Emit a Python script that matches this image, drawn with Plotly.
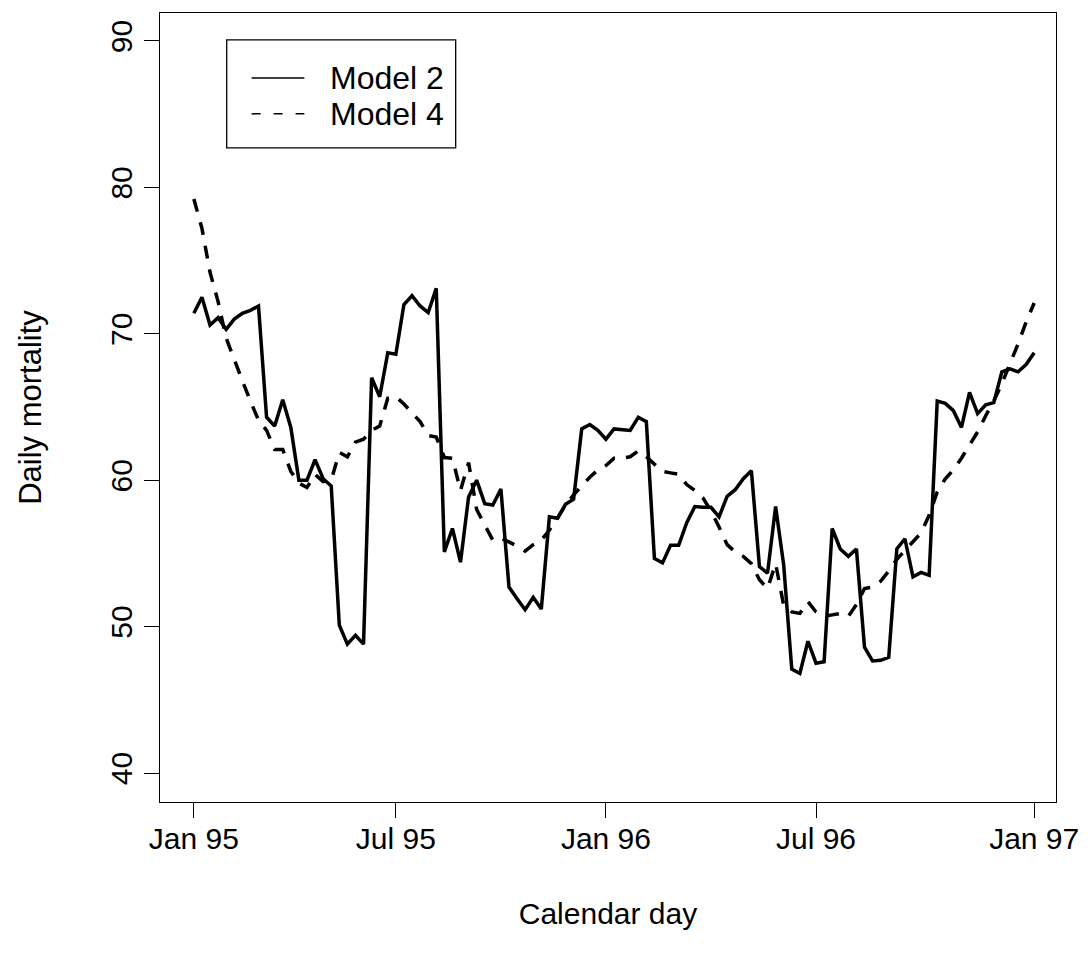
import plotly.graph_objects as go

# Week index (0 = first week of Jan 1995)
week = list(range(105))

model2 = [71.4, 72.5, 70.6, 71.1, 70.3, 71.0, 71.4, 71.6, 71.9, 64.3,
          63.7, 65.5, 63.6, 60.0, 60.0, 61.4, 60.1, 59.6, 50.1, 48.8,
          49.4, 48.8, 67.0, 65.7, 68.7, 68.6, 72.0, 72.6, 71.9, 71.45,
          73.1, 55.1, 56.7, 54.4, 58.85, 60.0, 58.4, 58.3, 59.4, 52.7,
          51.9, 51.15, 52.0, 51.2, 57.5, 57.4, 58.35, 58.7, 63.5, 63.8,
          63.4, 62.8, 63.5, 63.45, 63.4, 64.3, 64.0, 54.65, 54.35, 55.55,
          55.55, 57.1, 58.2, 58.15, 58.15, 57.5, 58.9, 59.35, 60.1, 60.65,
          54.1, 53.65, 58.2, 54.2, 47.1, 46.8, 49.0, 47.5, 47.6, 56.7,
          55.3, 54.8, 55.3, 48.6, 47.65, 47.7, 47.9, 55.3, 56.0, 53.4,
          53.7, 53.5, 65.4, 65.25, 64.75, 63.6, 66.0, 64.55, 65.15, 65.3,
          67.4, 67.6, 67.4, 67.9, 68.7]

model4 = [79.2, 77.2, 74.2, 72.2, 69.7, 68.2, 66.8, 65.4, 64.1, 63.4,
          62.1, 62.1, 60.6, 59.8, 59.5, 60.4, 59.9, 60.0, 61.9, 61.6,
          62.6, 62.8, 63.4, 63.7, 65.6, 65.7, 65.2, 64.6, 64.0, 63.05,
          62.95, 61.55, 61.5, 59.3, 61.2, 58.0, 56.9, 55.9, 56.05, 55.8,
          55.5, 55.15, 55.6, 55.9, 56.6, 57.4, 58.3, 59.0, 59.6, 60.2,
          60.7, 61.0, 61.5, 61.5, 61.6, 62.0, 61.6, 61.1, 60.6, 60.5,
          60.4, 59.7, 59.3, 58.8, 57.9, 56.8, 55.6, 55.1, 54.8, 54.3,
          53.2, 52.6, 54.3, 51.45, 51.0, 50.9, 51.7, 51.0, 50.7, 50.8,
          50.9, 50.7, 51.5, 52.6, 52.7, 53.1, 53.8, 54.6, 55.2, 55.8,
          56.4, 57.6, 59.2, 60.1, 60.7, 61.5, 62.4, 63.3, 64.4, 65.4,
          66.6, 67.9, 69.3, 70.8, 72.1]

x_tick_vals = [0, 25, 51, 77, 104]
x_tick_text = ["Jan 95", "Jul 95", "Jan 96", "Jul 96", "Jan 97"]
y_tick_vals = [40, 50, 60, 70, 80, 90]
legend_labels = ["Model 2", "Model 4"]

FONT = "Liberation Sans, Arial, sans-serif"
FS = 30

fig = go.Figure()
fig.add_trace(go.Scatter(x=week, y=model2, mode="lines", name=legend_labels[0],
                         line=dict(color="black", width=3.5, dash="solid"),
                         showlegend=False))
fig.add_trace(go.Scatter(x=week, y=model4, mode="lines", name=legend_labels[1],
                         line=dict(color="black", width=3.5, dash="13px,11px"),
                         showlegend=False))

# Manual legend (R style)
fig.add_shape(type="rect", xref="paper", yref="paper",
              x0=(227 - 160) / 900, x1=(457 - 160) / 900,
              y0=(802 - 147) / 790, y1=(802 - 39) / 790,
              line=dict(color="black", width=1.3), fillcolor="white")
for k, (lab, dash) in enumerate(zip(legend_labels, ["solid", "9px,13px"])):
    ypix = 77 + k * 36
    yp = (802 - ypix) / 790
    fig.add_shape(type="line", xref="paper", yref="paper",
                  x0=(252 - 160) / 900, x1=(305 - 160) / 900, y0=yp, y1=yp,
                  line=dict(color="black", width=1.5, dash=dash))
    fig.add_annotation(xref="paper", yref="paper", x=(329 - 160) / 900, y=yp,
                       text=lab, showarrow=False, xanchor="left", yanchor="middle",
                       font=dict(family=FONT, size=32, color="black"))

fig.update_layout(
    width=1091, height=960,
    margin=dict(l=160, r=31, t=12, b=158),
    paper_bgcolor="white", plot_bgcolor="white",
    font=dict(family=FONT, size=FS, color="black"),
)
fig.update_xaxes(range=[-4.19, 106.7], tickvals=x_tick_vals, ticktext=x_tick_text,
                 ticks="outside", ticklen=15, tickwidth=1.3, tickcolor="black",
                 ticklabelstandoff=-5,
                 showline=True, mirror=True, linecolor="black", linewidth=1.3,
                 showgrid=False, zeroline=False,
                 tickfont=dict(family=FONT, size=FS),
                 title=dict(text="Calendar day", standoff=48,
                            font=dict(family=FONT, size=FS)))
fig.update_yaxes(range=[38.02, 91.91], tickvals=y_tick_vals,
                 ticks="outside", ticklen=15, tickwidth=1.3, tickcolor="black",
                 tickangle=-90,
                 showline=True, mirror=True, linecolor="black", linewidth=1.3,
                 showgrid=False, zeroline=False,
                 tickfont=dict(family=FONT, size=FS),
                 title=dict(text="Daily mortality", standoff=53,
                            font=dict(family=FONT, size=31)))

fig.write_html("out.html")
